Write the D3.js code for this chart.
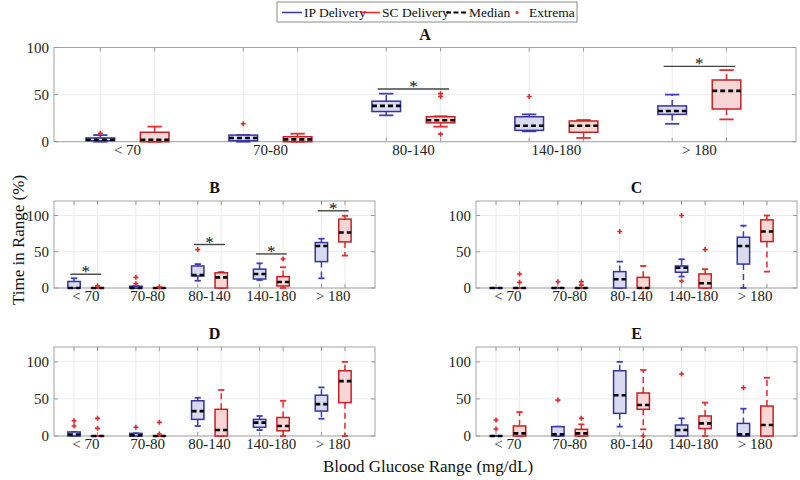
<!DOCTYPE html>
<html><head><meta charset="utf-8">
<script src="https://cdn.jsdelivr.net/npm/d3@7"></script>
<style>body{margin:0;background:#fff}</style>
</head><body><svg id="c" width="800" height="480"></svg>
<script>
const categories = ["< 70","70-80","80-140","140-180","> 180"];
const seriesNames = ["IP Delivery","SC Delivery","Median","Extrema"];
const yTicks = [0,50,100];
// each box: [low whisker, q1, median, q3, high whisker]
const A_IP = [[0,1,2,4,7],[0,1,4,7,7],[28,32,38,43,51],[11,12,17,26.5,29],[19,29,32.6,38,50]];
const A_SC = [[0,0,2,10,16],[0,0,2.5,5.3,8.5],[16,20,22.7,26.5,27],[4,10,17,22,23],[23.7,34.7,54,65.5,76]];
const A_IP_ext = [[9],[19],[],[48],[]];
const A_SC_ext = [[],[],[51,48,8],[],[]];
const A_sig = [[2,56],[4,80]];

const B_IP = [[0,0,0,9,13.4],[0,0,0,2.5,2.5],[10,16.6,18,30.4,33],[11,12.4,19.4,26,34],[13.4,36.4,58,62.7,68]];
const B_SC = [[0,0,0,0,0],[0,0,0,0,0],[0,0,14.7,21,22],[0,2.8,8.3,15.7,28.6],[44.7,63.6,76.5,95,99.6]];
const B_IP_ext = [[],[14.7,6],[53],[],[]];
const B_SC_ext = [[3],[1.5],[],[40],[]];
const B_sig = [[0,19],[2,60],[3,47],[4,106.5]];

const C_IP = [[0,0,0,0,0],[0,0,0,0,0],[0,0,12,22.6,36.4],[15.7,21.7,28,30.4,39.7],[0,33,58,70,86]];
const C_SC = [[0,0,0,0,0],[0,0,0,0,0],[0,0,0,14.7,30.4],[0,0,6.5,19.4,26],[22.6,64,78,94,100]];
const C_IP_ext = [[],[8.7],[78],[100,9.7],[]];
const C_SC_ext = [[19.4,7.8],[8.7,4],[],[53],[]];
const C_sig = [];

const D_IP = [[0,0,2,5.4,5.4],[0,0,1,3.6,3.6],[13.5,22.4,33.6,47.5,51.6],[8,11.7,18,22.4,27],[23.3,33.6,43,55,65.5]];
const D_SC = [[0,0,0,0,0],[0,0,0,0,0],[0,0,8,36,62],[0,7,13.5,25,47.5],[0,45,74,88,100]];
const D_IP_ext = [[20.6,13.5],[11.7],[],[],[]];
const D_SC_ext = [[23.8,10.3],[18.4,2.7],[],[],[]];
const D_sig = [];

const E_IP = [[0,0,0,0,0],[0,0,2.2,12.6,12.6],[12.6,30.5,55,88,100],[0,0,8,14.8,23.8],[0,0,2.2,17,36.8]];
const E_SC = [[0,0,3.6,13.5,32.3],[0,0,3.6,9,15.7],[9,36,41.7,58,89],[0,9.9,17,27,45],[0,0,14.8,40.4,78.5]];
const E_IP_ext = [[21.5,9.4],[48.4],[],[83.5],[65]];
const E_SC_ext = [[],[23.8],[0],[],[]];
const E_sig = [];

const panels = [
  {title:"A", ip:A_IP, sc:A_SC, ipExt:A_IP_ext, scExt:A_SC_ext, sig:A_sig, x0:54, x1:796, y0:47.5, y1:141.7, ymax:100},
  {title:"B", ip:B_IP, sc:B_SC, ipExt:B_IP_ext, scExt:B_SC_ext, sig:B_sig, x0:54, x1:375, y0:201, y1:288, ymax:120},
  {title:"C", ip:C_IP, sc:C_SC, ipExt:C_IP_ext, scExt:C_SC_ext, sig:C_sig, x0:476, x1:797, y0:201, y1:288, ymax:120},
  {title:"D", ip:D_IP, sc:D_SC, ipExt:D_IP_ext, scExt:D_SC_ext, sig:D_sig, x0:54, x1:375, y0:347, y1:436, ymax:120},
  {title:"E", ip:E_IP, sc:E_SC, ipExt:E_IP_ext, scExt:E_SC_ext, sig:E_sig, x0:476, x1:797, y0:347, y1:436, ymax:120}
];

const colors = {
  ip:{edge:"#34349e", fill:"#d9d9f0", whisk:"#3d3dc0"},
  sc:{edge:"#c42222", fill:"#f9d6d6", whisk:"#e82a2a"}
};
const FONT = "'Liberation Serif','Times New Roman','DejaVu Serif',serif";
const svg = d3.select("#c");
svg.append("rect").attr("width",800).attr("height",480).attr("fill","#fff");

const OFF = 0.19, BW = 0.2;

panels.forEach(p => {
  const x = d3.scaleLinear().domain([-0.514, 4.676]).range([p.x0, p.x1]);
  const y = d3.scaleLinear().domain([0, p.ymax]).range([p.y1, p.y0]);
  const g = svg.append("g");
  const per = x(1) - x(0);
  // grid
  yTicks.forEach(t => g.append("line").attr("x1",p.x0).attr("x2",p.x1).attr("y1",y(t)).attr("y2",y(t))
      .attr("stroke","#ececec").attr("stroke-width",1));
  categories.forEach((c,i) => [-OFF, OFF].forEach(o => {
    g.append("line").attr("x1",x(i+o)).attr("x2",x(i+o)).attr("y1",p.y0).attr("y2",p.y1)
      .attr("stroke","#ececec").attr("stroke-width",1);
    g.append("line").attr("x1",x(i+o)).attr("x2",x(i+o)).attr("y1",p.y0).attr("y2",p.y0+4).attr("stroke","#9a9a9a");
    g.append("line").attr("x1",x(i+o)).attr("x2",x(i+o)).attr("y1",p.y1).attr("y2",p.y1-4).attr("stroke","#9a9a9a");
  }));
  // frame
  g.append("rect").attr("x",p.x0).attr("y",p.y0).attr("width",p.x1-p.x0).attr("height",p.y1-p.y0)
    .attr("fill","none").attr("stroke","#a3a3a3").attr("stroke-width",1);
  // y ticks
  yTicks.forEach(t => {
    g.append("line").attr("x1",p.x0).attr("x2",p.x0+4).attr("y1",y(t)).attr("y2",y(t)).attr("stroke","#9a9a9a");
    g.append("line").attr("x1",p.x1).attr("x2",p.x1-4).attr("y1",y(t)).attr("y2",y(t)).attr("stroke","#9a9a9a");
    g.append("text").attr("x",p.x0-5).attr("y",y(t)+5).attr("text-anchor","end")
      .style("font-family",FONT).attr("font-size",15).attr("fill","#222").text(t);
  });
  // x labels
  categories.forEach((c,i) => g.append("text").attr("x",x(i)).attr("y",p.y1+13)
    .attr("text-anchor","middle").style("font-family",FONT).attr("font-size",15).attr("fill","#222").text(c));
  // title
  g.append("text").attr("x",(p.x0+p.x1)/2).attr("y",p.y0-8).attr("text-anchor","middle")
    .style("font-family",FONT).attr("font-size",16).attr("font-weight","bold").attr("fill","#111").text(p.title);

  const bw = BW*per;
  function drawBox(stats, ext, i, o, col){
    const cx = x(i+o);
    const [lo,q1,md,q3,hi] = stats;
    g.append("line").attr("x1",cx).attr("x2",cx).attr("y1",y(q3)).attr("y2",y(hi))
      .attr("stroke",col.whisk).attr("stroke-width",1.5).attr("stroke-dasharray","6,4");
    g.append("line").attr("x1",cx).attr("x2",cx).attr("y1",y(q1)).attr("y2",y(lo))
      .attr("stroke",col.whisk).attr("stroke-width",1.5).attr("stroke-dasharray","6,4");
    [lo,hi].forEach(v => g.append("line").attr("x1",cx-bw/4).attr("x2",cx+bw/4).attr("y1",y(v)).attr("y2",y(v))
      .attr("stroke",col.whisk).attr("stroke-width",1.8));
    g.append("rect").attr("x",cx-bw/2).attr("y",y(q3)).attr("width",bw).attr("height",Math.max(0.01,y(q1)-y(q3)))
      .attr("fill",col.fill).attr("stroke",col.edge).attr("stroke-width",1.5);
    g.append("line").attr("x1",cx-bw/2).attr("x2",cx+bw/2).attr("y1",y(md)).attr("y2",y(md))
      .attr("stroke","#000").attr("stroke-width",2.6).attr("stroke-dasharray","5,3");
    ext.forEach(v => {
      const yy = y(v);
      g.append("path").attr("d",`M${cx-2.5},${yy}H${cx+2.5}M${cx},${yy-2.5}V${yy+2.5}`)
        .attr("stroke","#e3262b").attr("stroke-width",1.6);
    });
  }
  categories.forEach((c,i) => {
    drawBox(p.ip[i], p.ipExt[i], i, -OFF, colors.ip);
    drawBox(p.sc[i], p.scExt[i], i, OFF, colors.sc);
  });
  p.sig.forEach(([i,v]) => {
    g.append("line").attr("x1",x(i-0.25)).attr("x2",x(i+0.25)).attr("y1",y(v)).attr("y2",y(v))
      .attr("stroke","#444").attr("stroke-width",1.4);
    g.append("text").attr("x",x(i)).attr("y",y(v)+3).attr("text-anchor","middle")
      .style("font-family",FONT).attr("font-size",17).attr("fill","#111").text("*");
  });
});

svg.append("text").attr("transform","translate(24,240) rotate(-90)").attr("text-anchor","middle")
  .style("font-family",FONT).attr("font-size",17).attr("fill","#111").text("Time in Range (%)");
svg.append("text").attr("x",428).attr("y",472).attr("text-anchor","middle")
  .style("font-family",FONT).attr("font-size",17).attr("fill","#111").text("Blood Glucose Range (mg/dL)");

const lg = svg.append("g");
lg.append("rect").attr("x",277).attr("y",2).attr("width",300).attr("height",20).attr("fill","#fff").attr("stroke","#8a8a8a");
const ly = 12.5;
lg.append("line").attr("x1",282).attr("x2",302).attr("y1",ly).attr("y2",ly).attr("stroke","#34349e").attr("stroke-width",1.5);
lg.append("text").attr("x",304).attr("y",ly+4.5).style("font-family",FONT).attr("font-size",13.5).attr("fill","#111").text(seriesNames[0]);
lg.append("line").attr("x1",360).attr("x2",380).attr("y1",ly).attr("y2",ly).attr("stroke","#e22").attr("stroke-width",1.5);
lg.append("text").attr("x",382).attr("y",ly+4.5).style("font-family",FONT).attr("font-size",13.5).attr("fill","#111").text(seriesNames[1]);
lg.append("line").attr("x1",446).attr("x2",467).attr("y1",ly).attr("y2",ly).attr("stroke","#000").attr("stroke-width",2).attr("stroke-dasharray","5,2.5");
lg.append("text").attr("x",469).attr("y",ly+4.5).style("font-family",FONT).attr("font-size",13.5).attr("fill","#111").text(seriesNames[2]);
lg.append("circle").attr("cx",517).attr("cy",ly).attr("r",1.6).attr("fill","#e3262b");
lg.append("text").attr("x",529).attr("y",ly+4.5).style("font-family",FONT).attr("font-size",13.5).attr("fill","#111").text(seriesNames[3]);
</script></body></html>
